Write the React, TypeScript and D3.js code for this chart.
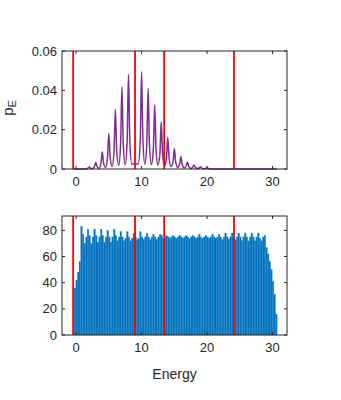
import React from "react";
import * as d3 from "d3";

// spectrum peaks (top panel); the one at 9 sits under the red marker and shows nothing
const peakEnergy = [2, 3, 4, 5, 6, 7, 8, 10, 11, 12, 13, 14, 15, 16, 17, 18, 19, 20];
const peakProb = [0.001, 0.0034, 0.0088, 0.018, 0.0303, 0.0418, 0.0482, 0.0494, 0.0411,
  0.0325, 0.0239, 0.0162, 0.0104, 0.0064, 0.0035, 0.002, 0.0012, 0.0007];
// height at 0.2 either side of each peak
const shoulderProb = [0.0004, 0.0012, 0.003, 0.006, 0.0095, 0.013, 0.015, 0.015, 0.013,
  0.0105, 0.008, 0.0055, 0.0037, 0.0024, 0.0014, 0.0009, 0.0005, 0.0003];
// valley before / after each peak
const valleyBefore = [0, 0.0002, 0.0004, 0.0008, 0.0013, 0.0018, 0.0022, 0.0026, 0.0025,
  0.0023, 0.002, 0.0016, 0.0012, 0.0008, 0.0005, 0.0003, 0.0002, 0.0001];
const valleyAfter = [0.0002, 0.0004, 0.0008, 0.0013, 0.0018, 0.0022, 0.0025, 0.0025, 0.0023,
  0.002, 0.0016, 0.0012, 0.0008, 0.0005, 0.0003, 0.0002, 0.0001, 0.00005];
const lineStart = -0.4;
const lineEnd = 30.65;

// histogram (bottom panel), bins of 0.25 starting at -0.3
const binStart = -0.3;
const binWidth = 0.25;
const counts = [
  36, 42, 48, 56,
  83, 77, 70, 75,
  81, 76, 70, 75,
  81, 76, 71, 75,
  81, 76, 71, 75,
  80, 75, 71, 75,
  81, 76, 72, 75,
  79, 75, 72, 74,
  79, 75, 72, 74,
  78, 75, 73, 74,
  79, 75, 73, 75,
  78, 75, 73, 75,
  77, 75, 73, 75,
  77, 76, 74, 75,
  76, 75, 74, 75,
  76, 75, 74, 75,
  76, 75, 74, 75,
  76, 75, 74, 75,
  76, 75, 74, 75,
  77, 75, 74, 75,
  76, 75, 74, 75,
  77, 75, 74, 75,
  77, 75, 73, 75,
  78, 75, 73, 75,
  78, 75, 73, 75,
  78, 75, 72, 75,
  78, 75, 72, 75,
  78, 75, 72, 75,
  78, 74, 72, 75,
  76, 67, 62, 56,
  50, 41, 31, 16,
];

// vertical markers
const markers = [-0.45, 9.0, 13.45, 24.1];

const xTicks = [0, 10, 20, 30];
const topYTicks = [0, 0.02, 0.04, 0.06];
const topYLabels = ["0", "0.02", "0.04", "0.06"];
const botYTicks = [0, 20, 40, 60, 80];

const axisColor = "#262626";
const font = "'Liberation Sans', Arial, Helvetica, sans-serif";

function Frame({ x, yTicks, yLabels, y, left, right, top, bottom }: any) {
  const tl = 3;
  return (
    <g fill="none" stroke={axisColor} strokeWidth={1}>
      <rect x={left} y={top} width={right - left} height={bottom - top} />
      {xTicks.map((t) => (
        <g key={"x" + t}>
          <line x1={x(t)} x2={x(t)} y1={bottom} y2={bottom - tl} />
          <line x1={x(t)} x2={x(t)} y1={top} y2={top + tl} />
          <text x={x(t)} y={bottom + 17} textAnchor="middle" fill={axisColor} stroke="none"
            fontSize={13} fontFamily={font}>{t}</text>
        </g>
      ))}
      {yTicks.map((t: number, i: number) => (
        <g key={"y" + t}>
          <line x1={left} x2={left + tl} y1={y(t)} y2={y(t)} />
          <line x1={right} x2={right - tl} y1={y(t)} y2={y(t)} />
          <text x={left - 5} y={y(t) + 4.6} textAnchor="end" fill={axisColor} stroke="none"
            fontSize={13} fontFamily={font}>{yLabels[i]}</text>
        </g>
      ))}
    </g>
  );
}

export default function App() {
  const left = 62, right = 287;
  const top1 = 51, bot1 = 169;
  const top2 = 216, bot2 = 335;

  const x = d3.scaleLinear().domain([-2.15, 32.2]).range([left, right]);
  const y1 = d3.scaleLinear().domain([0, 0.06]).range([bot1, top1]);
  const y2 = d3.scaleLinear().domain([0, 91]).range([bot2, top2]);

  // build the spectrum line from valleys, shoulders and peaks
  const pts: [number, number][] = [[lineStart, 0]];
  peakEnergy.forEach((e, i) => {
    pts.push([e - 0.5, valleyBefore[i]]);
    pts.push([e - 0.2, shoulderProb[i]]);
    pts.push([e, peakProb[i]]);
    pts.push([e + 0.2, shoulderProb[i]]);
    if (peakEnergy[i + 1] !== e + 1) pts.push([e + 0.5, valleyAfter[i]]);
  });
  pts.push([lineEnd, 0]);
  const line = d3.line<[number, number]>()
    .x((d) => x(d[0]))
    .y((d) => y1(d[1]))
    .curve(d3.curveMonotoneX);

  return (
    <svg width={341} height={400} style={{ position: "absolute", left: 0, top: 0, background: "#fff" }}>
      {/* top panel */}
      <path d={line(pts) || ""} fill="none" stroke="#7E2F8E" strokeWidth={1.5} />
      {markers.map((m) => (
        <line key={"m1" + m} x1={x(m)} x2={x(m)} y1={top1} y2={bot1} stroke="#FF0000" strokeWidth={1.8} />
      ))}
      <Frame x={x} y={y1} yTicks={topYTicks} yLabels={topYLabels}
        left={left} right={right} top={top1} bottom={bot1} />
      <text transform={`translate(13,108) rotate(-90)`} textAnchor="middle" fontSize={15}
        fontFamily={font} fill={axisColor}>
        p<tspan fontSize={11} dy={3}>E</tspan>
      </text>

      {/* bottom panel */}
      {counts.map((c, i) => {
        const e0 = binStart + i * binWidth;
        return (
          <rect key={"b" + i} x={x(e0)} width={x(e0 + binWidth) - x(e0)} y={y2(c)}
            height={bot2 - y2(c)} fill="#0072BD" stroke="#2a84c6" strokeWidth={0.25} />
        );
      })}
      {markers.map((m) => (
        <line key={"m2" + m} x1={x(m)} x2={x(m)} y1={top2} y2={bot2} stroke="#FF0000" strokeWidth={1.8} />
      ))}
      <Frame x={x} y={y2} yTicks={botYTicks} yLabels={botYTicks.map(String)}
        left={left} right={right} top={top2} bottom={bot2} />
      <text x={(left + right) / 2} y={379} textAnchor="middle" fontSize={14}
        fontFamily={font} fill={axisColor}>Energy</text>
    </svg>
  );
}
